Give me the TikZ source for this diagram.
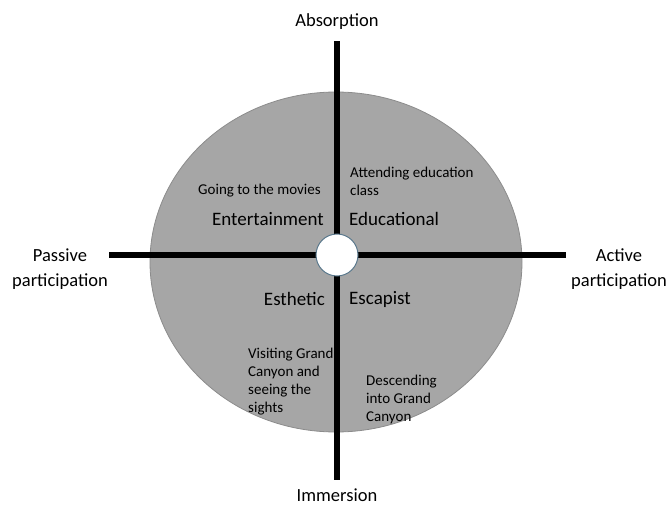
\documentclass[tikz,border=0pt]{standalone}
\usepackage{fontspec}
\setmainfont{Carlito}
\begin{document}
\begin{tikzpicture}[x=1pt,y=-1pt,
  axis/.style={line width=6pt,black},
  small/.style={font=\fontsize{15}{18}\selectfont,align=left,inner sep=0pt},
  big/.style={font=\fontsize{19}{22}\selectfont,inner sep=0pt},
  pole/.style={font=\fontsize{18.5}{25}\selectfont,align=center,inner sep=0pt}]
\useasboundingbox (0,0) rectangle (670,506);
% background disc of the four realms
\fill[fill={rgb,255:red,166;green,166;blue,166},draw={rgb,255:red,140;green,140;blue,140},line width=0.8pt]
  (336,262) ellipse [x radius=186, y radius=170];
% axes
\coordinate (top) at (337,41);
\coordinate (bot) at (337,480);
\coordinate (lft) at (109,255);
\coordinate (rgt) at (566,255);
\draw[axis] (top) -- (bot);
\draw[axis] (lft) -- (rgt);
\node[circle,minimum size=42pt,fill=white,draw={rgb,255:red,90;green,120;blue,140},line width=1pt] (hub) at (337,255) {};
% pole labels
\node[pole] (abs) at (337,22) {Absorption};
\node[pole] (imm) at (337,495) {Immersion};
\node[pole] (pas) at (60,269) {Passive\\participation};
\node[pole] (act) at (619,269) {Active\\participation};
% realms
\node[big,anchor=east] (ent) at (324,219) {Entertainment};
\node[big,anchor=west] (edu) at (349,219) {Educational};
\node[big,anchor=east] (est) at (325,299) {Esthetic};
\node[big,anchor=west] (esc) at (349,299) {Escapist};
% examples
\node[small,anchor=west] (mov) at (198,191) {Going to the movies};
\node[small,anchor=west] (cls) at (350,181) {Attending education\\class};
\node[small,anchor=west] (vis) at (248,382) {Visiting Grand\\Canyon and\\seeing the\\sights};
\node[small,anchor=west] (des) at (366,399) {Descending\\into Grand\\Canyon};
\end{tikzpicture}
\end{document}
